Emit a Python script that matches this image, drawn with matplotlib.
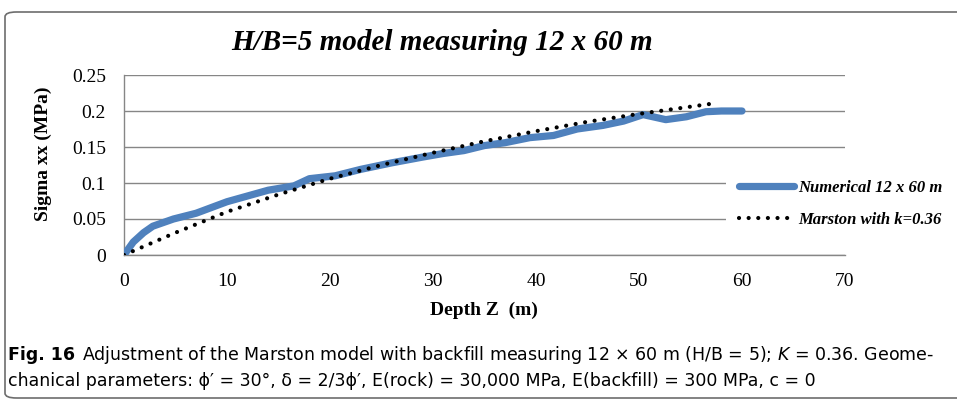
import matplotlib
matplotlib.use('Agg')
import matplotlib.pyplot as plt
from matplotlib.patches import FancyBboxPatch, Rectangle
from matplotlib.lines import Line2D

# ---------------------------------------------------------------------------

W, H = 957, 400
dpi = 100.0

# numerical model
num_z = [0, 0.9, 1.9, 2.8, 4.8, 7, 10, 14, 16.5, 18, 20.5, 23, 26, 29, 31, 33,
         35, 37, 39.4, 41.7, 44, 46.5, 48.5, 50.4, 52.6, 54.6, 56.5, 58, 60]
num_s = [0.0, 0.018, 0.031, 0.040, 0.050, 0.058, 0.074, 0.090, 0.096, 0.106,
         0.110, 0.119, 0.128, 0.136, 0.141, 0.145, 0.152, 0.156, 0.163, 0.166,
         0.175, 0.180, 0.186, 0.195, 0.188, 0.192, 0.199, 0.200, 0.200]

# Marston solution
mar_z = [0, 5, 10, 15, 20, 25, 30, 35, 40, 45, 50, 55, 57]
mar_s = [0.0, 0.031, 0.060, 0.084, 0.106, 0.125, 0.142, 0.158, 0.172, 0.185,
         0.196, 0.206, 0.210]

num_label = 'Numerical 12 x 60 m'
mar_label = 'Marston with k=0.36'
yticks = [0, 0.05, 0.1, 0.15, 0.2, 0.25]
ytick_labels = ['0', '0.05', '0.1', '0.15', '0.2', '0.25']
xticks = [0, 10, 20, 30, 40, 50, 60, 70]

BLUE = '#4F81BD'
GRID = '#868686'
SERIF = ['Liberation Serif', 'DejaVu Serif']
DOTS = (0, (0.01, 2.3))


def fx(px):
    return px / W


def fy(py):
    return 1 - py / H


fig = plt.figure(figsize=(W / dpi, H / dpi), dpi=dpi)

# rounded frame round the whole figure
frame = FancyBboxPatch((fx(5), fy(398)), fx(990) - fx(5), fy(12) - fy(398),
                       boxstyle='round,pad=0,rounding_size=0.012',
                       transform=fig.transFigure, facecolor='none',
                       edgecolor='#6d6d6d', linewidth=1.2)
fig.patches.append(frame)

ax = fig.add_axes([fx(124), fy(255), fx(845) - fx(124), fy(75) - fy(255)])
ax.set_xlim(0, 70)
ax.set_ylim(0, 0.25)
ax.set_xticks(xticks)
ax.set_yticks(yticks)
ax.set_yticklabels(ytick_labels)
ax.tick_params(length=0, labelsize=14)
ax.tick_params(axis='y', pad=13)
ax.tick_params(axis='x', pad=13)
for lab in ax.get_xticklabels() + ax.get_yticklabels():
    lab.set_family(SERIF)
ax.yaxis.grid(True, color=GRID, linewidth=1.0)
for loc in 'top', 'right':
    ax.spines[loc].set_visible(False)
for loc in 'left', 'bottom':
    ax.spines[loc].set_color(GRID)
    ax.spines[loc].set_linewidth(1.0)

ax.plot(num_z, num_s, color=BLUE, linewidth=5.2, solid_capstyle='round',
        solid_joinstyle='round', label=num_label, zorder=3)
ax.plot(mar_z, mar_s, color='black', linewidth=3.0, linestyle=DOTS,
        dash_capstyle='round', label=mar_label, zorder=4)

# white area behind the legend hides the grid lines
cover = Rectangle((fx(726), fy(240)), fx(960) - fx(726), fy(160) - fy(240),
                  transform=fig.transFigure, facecolor='white',
                  edgecolor='none', zorder=2.5, clip_on=False)
ax.add_patch(cover)

handles = [Line2D([], [], color=BLUE, linewidth=5.2, solid_capstyle='round'),
           Line2D([], [], color='black', linewidth=3.0, linestyle=DOTS,
                  dash_capstyle='round')]
leg = fig.legend(handles, [num_label, mar_label], loc='upper left',
                 bbox_to_anchor=(fx(739), fy(180)), frameon=False,
                 handlelength=3.3, handletextpad=0.25, labelspacing=0.95,
                 borderaxespad=0, borderpad=0,
                 prop={'family': SERIF, 'weight': 'bold', 'style': 'italic',
                       'size': 12})

fig.text(fx(442), fy(42), 'H/B=5 model measuring 12 x 60 m', ha='center',
         va='center', family=SERIF, weight='bold', style='italic', size=21)
fig.text(fx(43), fy(154), 'Sigma xx (MPa)', ha='center', va='center',
         rotation=90, family=SERIF, weight='bold', size=14)
fig.text(fx(484), fy(310), 'Depth Z  (m)', ha='center', va='center',
         family=SERIF, weight='bold', size=14)

CAP = ['DejaVu Sans']
fig.text(fx(8), fy(355), 'Fig. 16', ha='left', va='center', family=CAP,
         weight='bold', size=12.5)
fig.text(fx(82), fy(355), 'Adjustment of the Marston model with backfill '
         'measuring 12 \u00d7 60 m (H/B = 5); $K$ = 0.36. Geome-',
         ha='left', va='center', family=CAP, size=12.5)
fig.text(fx(8), fy(381), 'chanical parameters: \u03d5\u2032 = 30\u00b0, '
         '\u03b4 = 2/3\u03d5\u2032, E(rock) = 30,000 MPa, E(backfill) = '
         '300 MPa, c = 0', ha='left', va='center', family=CAP, size=12.5)

fig.savefig('out.png', dpi=dpi)
